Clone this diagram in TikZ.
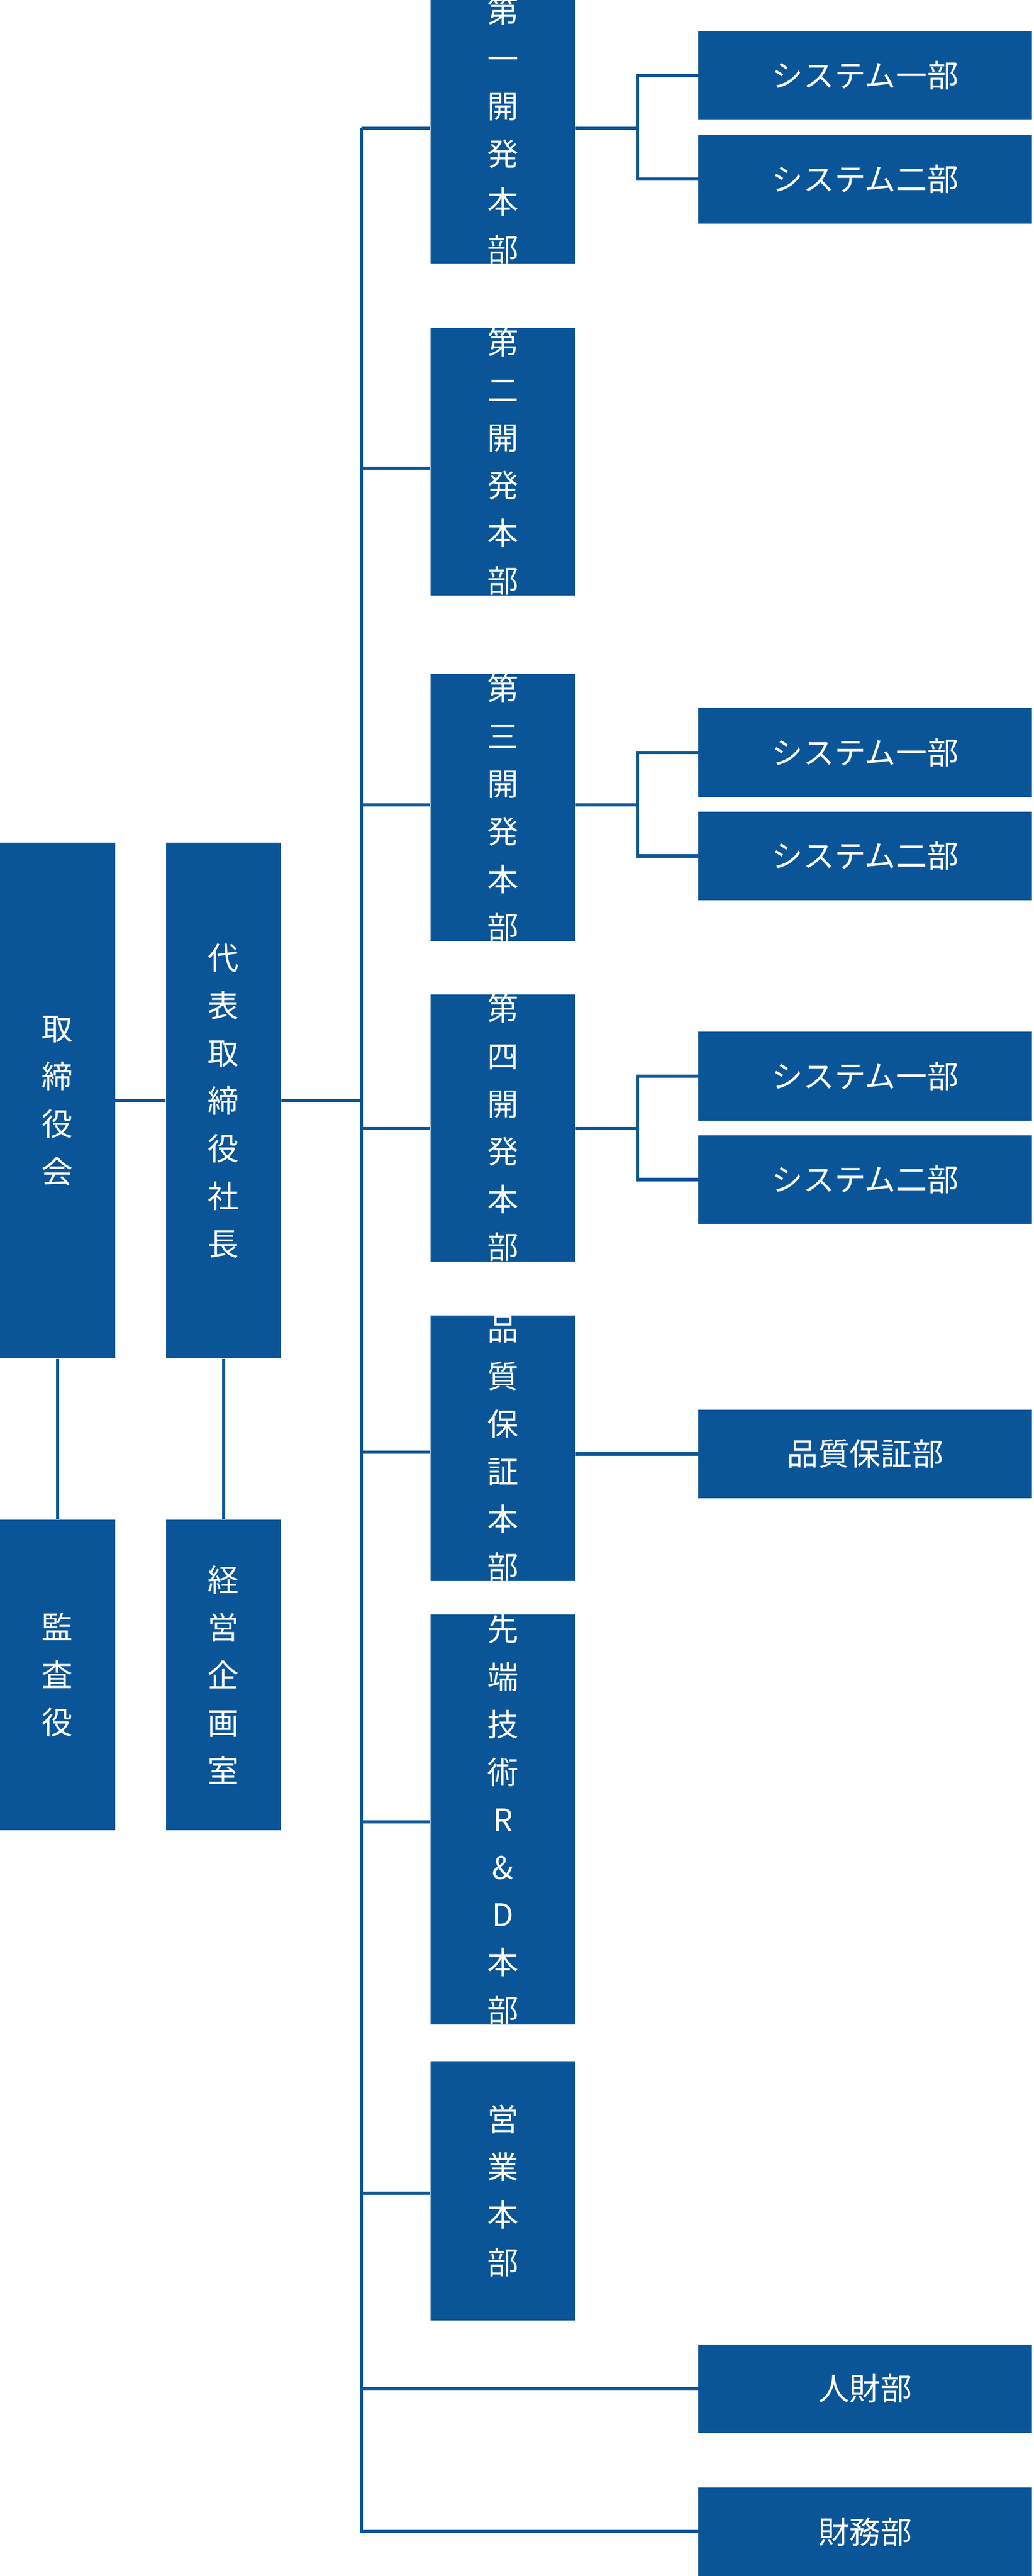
\documentclass[tikz,border=0pt]{standalone}
\usepackage{fontspec}
\setmainfont{Noto Sans CJK JP}
\definecolor{orgblue}{HTML}{0A5598}
\tikzset{
  box/.style={draw=none,fill=orgblue,text=white,inner sep=0pt,align=center,
    font=\fontsize{19}{29}\selectfont},
  vbox/.style={box,minimum width=70pt},
  cbox/.style={box,minimum width=88pt,minimum height=158pt},
  hbox/.style={box,minimum width=203pt,minimum height=54pt},
  wire/.style={orgblue,line width=2pt}
}
\begin{document}
\begin{tikzpicture}[x=1pt,y=-1pt]
      \useasboundingbox (0,0) rectangle (629,1568);
      % left side
      \node at (35,670)[vbox,minimum height=314pt] (board){取\\締\\役\\会};
      \node at (136,670)[vbox,minimum height=314pt] (pres){代\\表\\取\\締\\役\\社\\長};
      \node at (35,1019.5)[vbox,minimum height=189pt] (audit){監\\査\\役};
      \node at (136,1019.5)[vbox,minimum height=189pt] (plan){経\\営\\企\\画\\室};
      % divisions
      \node at (306,79)[cbox] (div1){第\\一\\開\\発\\本\\部};
      \node at (306,281)[cbox] (div2){第\\二\\開\\発\\本\\部};
      \node at (306,491.5)[cbox] (div3){第\\三\\開\\発\\本\\部};
      \node at (306,686.5)[cbox] (div4){第\\四\\開\\発\\本\\部};
      \node at (306,881.5)[cbox] (qa){品\\質\\保\\証\\本\\部};
      \node at (306,1107.5)[cbox,minimum height=221pt] (rd){先\\端\\技\\術\\R\\\&\\D\\本\\部};
      \node at (306,1333.5)[cbox] (sales){営\\業\\本\\部};
      % departments
      \node at (526.5,46)[hbox] (s11){システム一部};
      \node at (526.5,109)[hbox] (s12){システム二部};
      \node at (526.5,458)[hbox] (s31){システム一部};
      \node at (526.5,521)[hbox] (s32){システム二部};
      \node at (526.5,655)[hbox] (s41){システム一部};
      \node at (526.5,718)[hbox] (s42){システム二部};
      \node at (526.5,885)[hbox] (qad){品質保証部};
      \node at (526.5,1454)[hbox] (hr){人財部};
      \node at (526.5,1541)[hbox] (fin){財務部};
      % wiring
      \coordinate (top) at (220,78);
      \coordinate (bot) at (220,1541);
      \draw[wire] (board) -- (pres);
      \draw[wire] (board) -- (audit);
      \draw[wire] (pres) -- (plan);
      \draw[wire] (pres.east) -- (220,670);
      \draw[wire] (top) -- (bot) -- (fin.west);
      \foreach \d/\y in {div1/78,div2/285,div3/490,div4/687,qa/884,rd/1109,sales/1335}
        \draw[wire] (220,\y) -- (\d.west |- 0,\y);
      \draw[wire] (220,1454) -- (hr.west);
      \draw[wire] (qa.east |- qad) -- (qad.west);
      \foreach \d/\a/\b/\y in {div1/s11/s12/78,div3/s31/s32/490,div4/s41/s42/687}{
        \draw[wire] (\d.east |- 0,\y) -- (388,\y);
        \draw[wire] (\a.west) -| (388,0 |- \b) -- (\b.west);
      }
\end{tikzpicture}
\end{document}
